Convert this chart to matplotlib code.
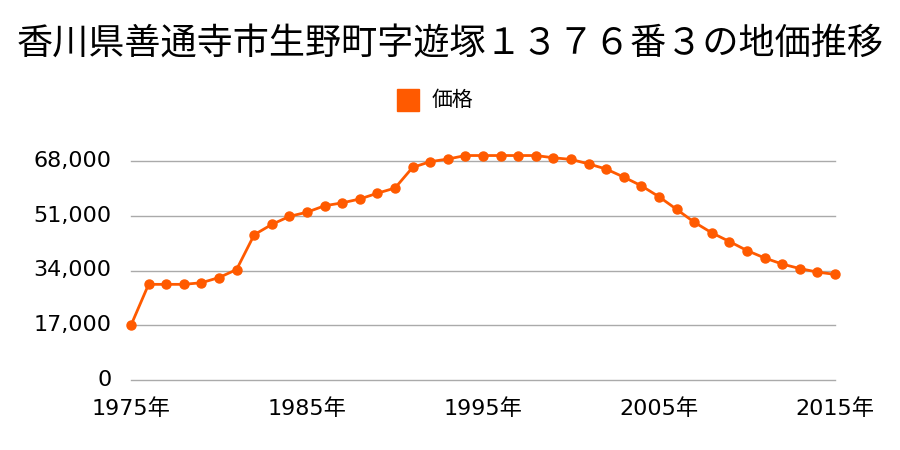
import matplotlib
matplotlib.use("Agg")
import matplotlib.pyplot as plt

plt.rcParams['font.family'] = ['DejaVu Sans', 'Noto Sans CJK JP']

title = "香川県善通寺市生野町字遊塚１３７６番３の地価推移"
series_name = "価格"
years = list(range(1975, 2016))
prices = [17000, 29700, 29700, 29700, 30200, 31800, 34300, 45100, 48300, 50800,
          52100, 54100, 55000, 56200, 58000, 59600, 66000, 67800, 68600, 69700,
          69700, 69700, 69700, 69700, 69000, 68500, 67100, 65500, 63000, 60300,
          56900, 53000, 49000, 45700, 43000, 40200, 37900, 36000, 34600, 33500,
          32800]
yticks = [0, 17000, 34000, 51000, 68000]
ytick_labels = ["0", "17,000", "34,000", "51,000", "68,000"]
xticks = [1975, 1985, 1995, 2005, 2015]
xtick_labels = ["1975年", "1985年", "1995年", "2005年", "2015年"]

color = "#FF5A00"

fig = plt.figure(figsize=(9, 4.5), dpi=100)
ax = fig.add_axes([131/900, 1-380/450, (835-131)/900, (380-161)/450])
ax.plot(years, prices, color=color, lw=2.0, marker='o', markersize=6.5,
        clip_on=False, zorder=3)
ax.set_xlim(1975, 2015)
ax.set_ylim(0, 68000)
ax.set_yticks(yticks)
ax.set_yticklabels(ytick_labels)
ax.set_xticks(xticks)
ax.set_xticklabels(xtick_labels)
ax.grid(axis='y', color='#aaaaaa', lw=1)
for gl in ax.get_ygridlines():
    gl.set_clip_on(False)
ax.tick_params(length=0, labelsize=16, colors='black')
ax.tick_params(axis='y', pad=14)
ax.tick_params(axis='x', pad=13)
for lbl in ax.get_yticklabels():
    lbl.set_verticalalignment('center')
for s in ax.spines.values():
    s.set_visible(False)

fig.text(0.5, 1-45/450, title, ha='center', va='center', fontsize=26,
         family=['Noto Sans CJK JP'])
fig.patches.append(plt.Rectangle((397/900, 1-111/450), 22/900, 22/450,
                                 transform=fig.transFigure, color=color))
fig.text(432/900, 1-100/450, series_name, ha='left', va='center', fontsize=15,
         family=['Noto Sans CJK JP'])

fig.savefig("out.png", dpi=100)
